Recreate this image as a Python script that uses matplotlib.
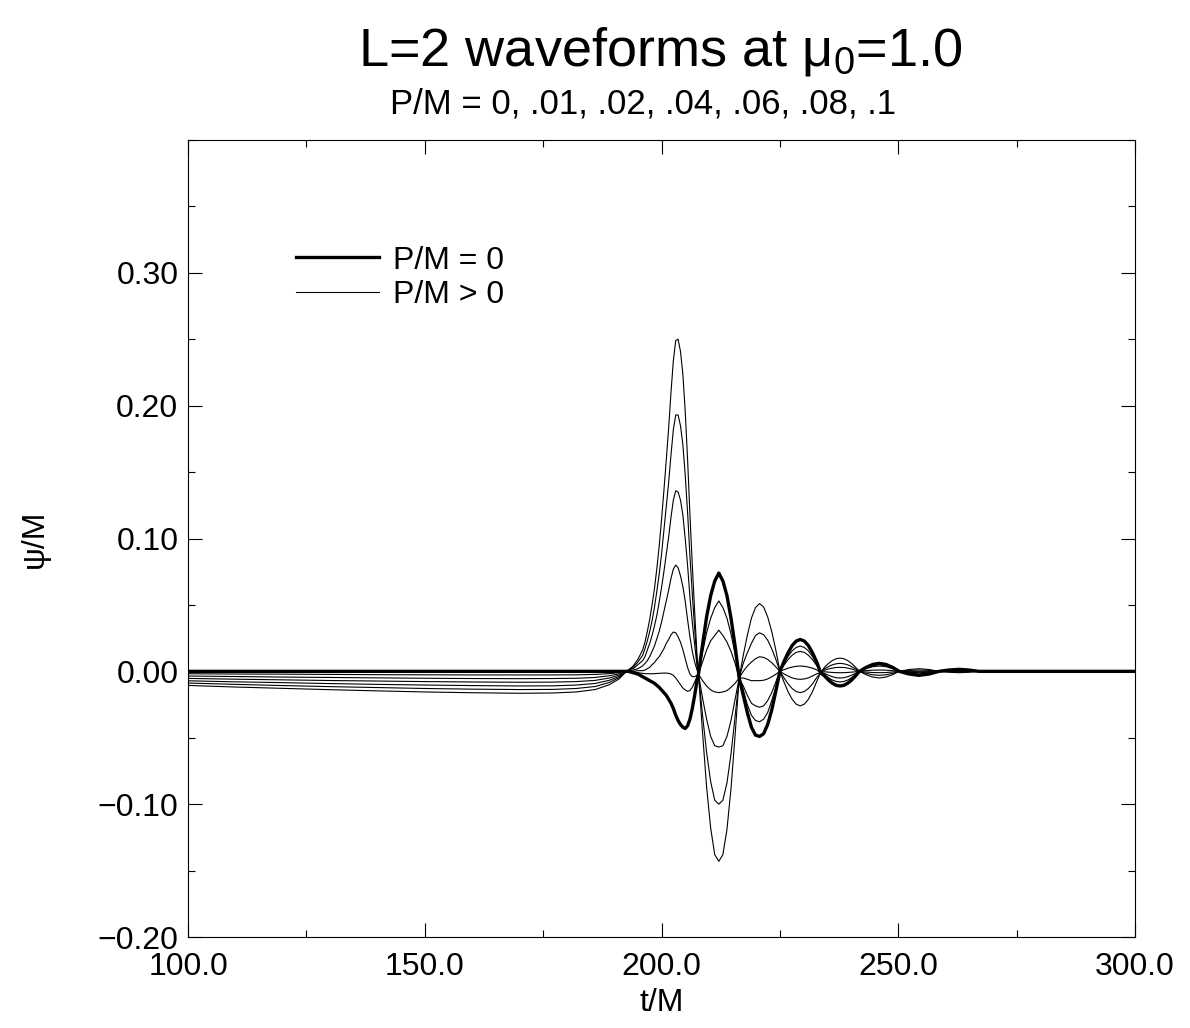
import numpy as np
import matplotlib
matplotlib.use("Agg")
import matplotlib.pyplot as plt
from matplotlib.ticker import MultipleLocator, FuncFormatter

plt.rcParams['font.family'] = ['Liberation Sans', 'DejaVu Sans']
plt.rcParams['mathtext.fontset'] = 'custom'
plt.rcParams['mathtext.rm'] = 'Liberation Sans'
plt.rcParams['mathtext.it'] = 'Liberation Sans'

# time samples (t/M)
t = [100, 110, 120, 130, 140, 150, 160, 170, 177, 182, 186, 189, 191, 192.6,
     193, 194, 195, 196, 196.5, 197, 197.5, 198, 198.5, 199, 199.5, 200, 200.5, 201,
     201.5, 202, 202.5, 203, 203.5, 204, 204.5, 205, 205.5, 206, 206.5, 207, 207.5, 207.8,
     208.66, 209.52, 210.38, 211.24, 212.1, 212.96, 213.82, 214.68, 215.54, 216.4,
     217.26, 218.12, 218.98, 219.84, 220.7, 221.56, 222.42, 223.28, 224.14, 225.0,
     225.86, 226.72, 227.58, 228.44, 229.3, 230.16, 231.02, 231.88, 232.74, 233.6,
     234.42, 235.24, 236.06, 236.88, 237.7, 238.52, 239.34, 240.16, 240.98, 241.8,
     243.2, 244.6, 246.0, 247.4, 248.8, 250.2,
     252.3, 254.4, 256.5, 258.6,
     260.7, 262.8, 264.9, 267.0,
     275, 285, 300]

# P/M = 0
psi_p000 = [0, 0, 0, 0, 0, 0, 0, 0, 0, 0, 0, 0, 0, 0,
            0, -0.001, -0.002, -0.004, -0.005, -0.006, -0.007, -0.008, -0.009, -0.0105, -0.012, -0.014, -0.016, -0.018,
            -0.021, -0.024, -0.028, -0.033, -0.037, -0.040, -0.042, -0.043, -0.041, -0.036, -0.028, -0.018, -0.007, -0.002,
            0.020, 0.041, 0.057, 0.068, 0.074, 0.068, 0.057, 0.040, 0.019, -0.005,
            -0.018, -0.031, -0.042, -0.048, -0.049, -0.047, -0.040, -0.029, -0.015, 0.0,
            0.0074, 0.014, 0.0194, 0.0228, 0.024, 0.0228, 0.0194, 0.014, 0.0074, -0.001,
            -0.0034, -0.0065, -0.0089, -0.0105, -0.011, -0.0105, -0.0089, -0.0065, -0.0034, 0,
            0.003, 0.0052, 0.006, 0.0052, 0.003, 0,
            -0.002, -0.003, -0.002, 0,
            0.001, 0.0015, 0.001, 0,
            0, 0, 0]

# P/M = .01
psi_p001 = [-0.0018, -0.0020, -0.0021, -0.0023, -0.0025, -0.0026, -0.0027, -0.0027, -0.0027, -0.0026, -0.0023, -0.0017, -0.0010, 0.0,
            0, -0.0005, -0.001, -0.0015, -0.0017, -0.0018, -0.0018, -0.0018, -0.0017, -0.0016, -0.0015, -0.0014, -0.0013, -0.0013,
            -0.0015, -0.002, -0.003, -0.005, -0.0075, -0.010, -0.0125, -0.014, -0.015, -0.0145, -0.012, -0.008, -0.004, -0.002,
            0.014, 0.029, 0.040, 0.048, 0.053, 0.048, 0.040, 0.028, 0.013, -0.005,
            -0.014, -0.025, -0.033, -0.037, -0.038, -0.036, -0.031, -0.022, -0.012, 0.0,
            0.0059, 0.0112, 0.0154, 0.018, 0.019, 0.018, 0.0154, 0.0112, 0.0059, -0.001,
            -0.0025, -0.0047, -0.0065, -0.0076, -0.008, -0.0076, -0.0065, -0.0047, -0.0025, 0,
            0.0025, 0.0043, 0.005, 0.0043, 0.0025, 0,
            -0.0017, -0.0025, -0.0017, 0,
            0.0008, 0.0012, 0.0008, 0,
            0, 0, 0]

# P/M = .02
psi_p002 = [-0.0035, -0.0039, -0.0043, -0.0046, -0.0049, -0.0052, -0.0054, -0.0055, -0.0054, -0.0052, -0.0046, -0.0033, -0.0019, 0.0,
            0.0, 0.0, 0.0005, 0.0005, 0.001, 0.002, 0.003, 0.005, 0.0066, 0.009, 0.011, 0.014, 0.017, 0.021,
            0.024, 0.0275, 0.0296, 0.029, 0.026, 0.022, 0.0165, 0.0096, 0.003, -0.002, -0.004, -0.004, -0.003, -0.002,
            0.007, 0.016, 0.023, 0.027, 0.031, 0.027, 0.022, 0.015, 0.006, -0.005,
            -0.011, -0.018, -0.024, -0.026, -0.027, -0.026, -0.022, -0.016, -0.008, 0.0,
            0.0046, 0.0088, 0.0121, 0.0143, 0.015, 0.0143, 0.0121, 0.0088, 0.0046, -0.001,
            -0.0015, -0.0029, -0.004, -0.0048, -0.005, -0.0048, -0.004, -0.0029, -0.0015, 0,
            0.002, 0.0035, 0.004, 0.0035, 0.002, 0,
            -0.0014, -0.002, -0.0014, 0,
            0.0007, 0.001, 0.0007, 0,
            0, 0, 0]

# P/M = .04
psi_p004 = [-0.0053, -0.0059, -0.0064, -0.0069, -0.0073, -0.0077, -0.0080, -0.0082, -0.0081, -0.0077, -0.0068, -0.0050, -0.0029, 0.0,
            0.0, 0.001, 0.002, 0.004, 0.006, 0.008, 0.011, 0.015, 0.019, 0.0245, 0.030, 0.037, 0.045, 0.053,
            0.061, 0.070, 0.077, 0.080, 0.078, 0.072, 0.064, 0.053, 0.039, 0.026, 0.015, 0.007, 0.001, -0.002,
            -0.007, -0.011, -0.014, -0.0155, -0.016, -0.0155, -0.0145, -0.012, -0.009, -0.005,
            -0.005, -0.006, -0.007, -0.007, -0.007, -0.0067, -0.0057, -0.0041, -0.0022, 0.0,
            0.0012, 0.0024, 0.0032, 0.0038, 0.004, 0.0038, 0.0032, 0.0024, 0.0012, -0.001,
            -0.0003, -0.0006, -0.0008, -0.001, -0.001, -0.001, -0.0008, -0.0006, -0.0003, 0,
            0.0005, 0.0009, 0.001, 0.0009, 0.0005, 0,
            -0.0007, -0.001, -0.0007, 0,
            0.0003, 0.0005, 0.0003, 0,
            0, 0, 0]

# P/M = .06
psi_p006 = [-0.0071, -0.0079, -0.0085, -0.0092, -0.0098, -0.0103, -0.0107, -0.0110, -0.0109, -0.0103, -0.0091, -0.0067, -0.0039, 0.0,
            0.001, 0.002, 0.005, 0.008, 0.011, 0.016, 0.021, 0.027, 0.034, 0.042, 0.052, 0.063, 0.075, 0.088,
            0.101, 0.116, 0.129, 0.136, 0.135, 0.129, 0.118, 0.100, 0.080, 0.056, 0.037, 0.020, 0.004, -0.002,
            -0.020, -0.036, -0.049, -0.056, -0.057, -0.056, -0.049, -0.037, -0.021, -0.005,
            0.000, 0.004, 0.007, 0.0095, 0.011, 0.0105, 0.009, 0.0065, 0.0034, 0.0,
            -0.0019, -0.0035, -0.0049, -0.0057, -0.006, -0.0057, -0.0049, -0.0035, -0.0019, -0.001,
            0.0009, 0.0018, 0.0024, 0.0029, 0.003, 0.0029, 0.0024, 0.0018, 0.0009, 0,
            -0.0005, -0.0009, -0.001, -0.0009, -0.0005, 0,
            0, 0, 0, 0,
            0, 0, 0, 0,
            0, 0, 0]

# P/M = .08
psi_p008 = [-0.0088, -0.0098, -0.0107, -0.0115, -0.0122, -0.0129, -0.0134, -0.0137, -0.0136, -0.0129, -0.0114, -0.0083, -0.0048, 0.0,
            0.001, 0.003, 0.007, 0.012, 0.017, 0.023, 0.030, 0.038, 0.048, 0.060, 0.073, 0.088, 0.106, 0.124,
            0.142, 0.163, 0.182, 0.193, 0.193, 0.185, 0.171, 0.148, 0.120, 0.087, 0.058, 0.032, 0.008, -0.002,
            -0.033, -0.061, -0.083, -0.097, -0.100, -0.097, -0.084, -0.062, -0.034, -0.005,
            0.006, 0.014, 0.021, 0.027, 0.029, 0.0276, 0.0235, 0.017, 0.009, 0.0,
            -0.0049, -0.0094, -0.0129, -0.0152, -0.016, -0.0152, -0.0129, -0.0094, -0.0049, -0.001,
            0.0019, 0.0035, 0.0049, 0.0057, 0.006, 0.0057, 0.0049, 0.0035, 0.0019, 0,
            -0.0015, -0.0026, -0.003, -0.0026, -0.0015, 0,
            0.0007, 0.001, 0.0007, 0,
            -0.0003, -0.0005, -0.0003, 0,
            0, 0, 0]

# P/M = .1
psi_p010 = [-0.0106, -0.0118, -0.0128, -0.0138, -0.0147, -0.0155, -0.0161, -0.0165, -0.0163, -0.0155, -0.0137, -0.0100, -0.0058, 0.0,
            0.001, 0.004, 0.009, 0.016, 0.022, 0.030, 0.039, 0.050, 0.062, 0.077, 0.094, 0.114, 0.136, 0.159,
            0.183, 0.210, 0.234, 0.249, 0.250, 0.241, 0.224, 0.196, 0.160, 0.118, 0.080, 0.045, 0.012, -0.002,
            -0.046, -0.087, -0.118, -0.138, -0.143, -0.138, -0.119, -0.088, -0.048, -0.005,
            0.012, 0.027, 0.040, 0.048, 0.051, 0.0485, 0.041, 0.030, 0.016, 0.0,
            -0.008, -0.0153, -0.021, -0.0247, -0.026, -0.0247, -0.021, -0.0153, -0.008, -0.001,
            0.0031, 0.0059, 0.0081, 0.0095, 0.010, 0.0095, 0.0081, 0.0059, 0.0031, 0,
            -0.0025, -0.0043, -0.005, -0.0043, -0.0025, 0,
            0.0014, 0.002, 0.0014, 0,
            -0.0007, -0.001, -0.0007, 0,
            0, 0, 0]

thin_curves = [psi_p001, psi_p002, psi_p004, psi_p006, psi_p008, psi_p010]


def minus_fmt(fmt):
    return FuncFormatter(lambda v, pos: (fmt % v).replace('-', '\u2212'))


fig = plt.figure(figsize=(11.9, 10.28), dpi=100)
ax = fig.add_axes([0.158, 0.0885, 0.7958, 0.7753])

for i, psi in enumerate(thin_curves):
    ax.plot(t, psi, color='black', lw=0.8, solid_joinstyle='round',
            label='P/M > 0' if i == 0 else None)
ax.plot(t, psi_p000, color='black', lw=2.4, solid_joinstyle='round',
        label='P/M = 0')

ax.set_xlim(100, 300)
ax.set_ylim(-0.2, 0.4)
ax.set_xticks([100, 150, 200, 250, 300])
ax.set_yticks([-0.2, -0.1, 0.0, 0.1, 0.2, 0.3])
ax.xaxis.set_minor_locator(MultipleLocator(25))
ax.yaxis.set_minor_locator(MultipleLocator(0.05))
ax.xaxis.set_major_formatter(minus_fmt('%.1f'))
ax.yaxis.set_major_formatter(minus_fmt('%.2f'))
ax.tick_params(which='both', direction='in', top=True, right=True,
               labelsize=23, width=0.8)
ax.tick_params(which='major', length=10)
ax.tick_params(which='minor', length=5)
ax.tick_params(axis='x', which='major', pad=11)
ax.tick_params(axis='y', which='major', pad=7)
for s in ax.spines.values():
    s.set_linewidth(0.8)

ax.set_xlabel('t/M', fontsize=23)
ax.set_ylabel('ψ/M', fontsize=23)
ax.xaxis.set_label_coords(0.5, -0.064)
ax.yaxis.set_label_coords(-0.146, 0.5)

fig.text(0.555, 0.950, r'L=2 waveforms at $\mathregular{\mu_0}$=1.0',
         ha='center', va='center', fontsize=39)
fig.text(0.54, 0.899, 'P/M = 0, .01, .02, .04, .06, .08, .1',
         ha='center', va='center', fontsize=25)

h, l = ax.get_legend_handles_labels()
ax.legend(h[::-1], l[::-1], loc='upper left', bbox_to_anchor=(0.114, 0.8675),
          frameon=False, fontsize=23, handlelength=2.6, handletextpad=0.45,
          labelspacing=0.15, borderpad=0, borderaxespad=0)

fig.savefig('out.png', dpi=100)
